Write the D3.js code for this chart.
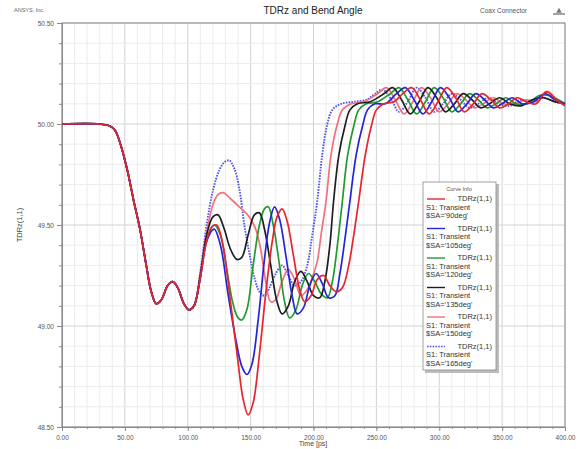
<!DOCTYPE html>
<html>
<head>
<meta charset="utf-8">
<script src="https://cdn.jsdelivr.net/npm/d3@7"></script>
<style>
  body { margin: 0; background: #fff; }
  text { font-family: "Liberation Sans", Arial, sans-serif; }
</style>
</head>
<body>
<div id="chart"></div>
<script>
// shared front of every trace (before the bend)
const commonStart = [[0,50.00],[30,50.00],[38,49.99],[42,49.97],[46,49.91],[52,49.77],[57,49.62],[62,49.48],[67,49.30],[71,49.17],[75,49.11],[79,49.13],[84,49.20],[88,49.22],[92,49.19],[97,49.11],[101,49.08],[105,49.10]];

const tail90 = [[110,49.24],[115,49.42],[119,49.49],[123,49.50],[128,49.40],[134,49.12],[140,48.82],[144,48.64],[148,48.56],[152,48.62],[157,48.86],[162,49.16],[167,49.41],[171,49.54],[175,49.58],[179,49.52],[184,49.35],[189,49.18],[193,49.12],[198,49.15],[203,49.23],[208,49.25],[213,49.20],[218,49.17],[223,49.19],[228,49.30],[232,49.45],[236,49.62],[241,49.84],[246,49.99],[250,50.07],[256,50.10],[264,50.11],[271,50.15],[278,50.18],[285,50.12],[292,50.05],[299,50.11],[306,50.18],[313,50.13],[320,50.06],[327,50.10],[334,50.15],[341,50.12],[348,50.08],[355,50.10],[362,50.13],[369,50.11],[377,50.10],[385,50.16],[393,50.12],[400,50.09]];
const tail105 = [[110,49.24],[115,49.42],[121,49.48],[126,49.40],[132,49.16],[138,48.94],[143,48.80],[147,48.76],[151,48.81],[156,49.03],[161,49.33],[165,49.51],[169,49.59],[173,49.53],[178,49.35],[183,49.15],[187,49.06],[192,49.09],[197,49.20],[202,49.26],[207,49.21],[212,49.14],[217,49.15],[221,49.26],[225,49.43],[229,49.62],[234,49.85],[239,49.99],[243,50.07],[249,50.10],[257,50.10],[266,50.15],[273,50.18],[280,50.12],[287,50.05],[294,50.11],[301,50.18],[308,50.13],[315,50.06],[322,50.10],[329,50.15],[336,50.12],[343,50.08],[350,50.10],[358,50.13],[366,50.10],[375,50.11],[384,50.15],[392,50.12],[400,50.10]];
const tail120 = [[110,49.24],[115,49.42],[121,49.50],[126,49.45],[131,49.28],[136,49.11],[140,49.04],[143,49.03],[147,49.08],[152,49.30],[157,49.50],[161,49.58],[164,49.59],[168,49.50],[173,49.30],[177,49.12],[181,49.04],[186,49.08],[191,49.20],[196,49.26],[201,49.22],[206,49.16],[211,49.14],[215,49.22],[219,49.40],[223,49.62],[227,49.84],[232,49.99],[236,50.07],[242,50.10],[251,50.11],[261,50.15],[268,50.18],[275,50.12],[282,50.05],[289,50.11],[296,50.18],[303,50.13],[310,50.06],[317,50.10],[324,50.15],[331,50.12],[338,50.08],[345,50.10],[353,50.13],[361,50.10],[370,50.10],[379,50.14],[388,50.14],[400,50.10]];
const tail135 = [[110,49.25],[115,49.45],[120,49.54],[124,49.55],[129,49.48],[134,49.38],[139,49.33],[143,49.34],[148,49.45],[153,49.55],[157,49.56],[161,49.48],[166,49.30],[171,49.12],[175,49.06],[180,49.10],[185,49.22],[190,49.27],[195,49.22],[200,49.15],[205,49.14],[209,49.22],[213,49.40],[216,49.62],[220,49.84],[225,49.99],[229,50.07],[235,50.10],[245,50.11],[256,50.15],[263,50.18],[270,50.12],[277,50.05],[284,50.11],[291,50.18],[298,50.13],[305,50.06],[312,50.10],[319,50.15],[326,50.12],[333,50.08],[340,50.10],[348,50.13],[356,50.10],[365,50.09],[374,50.12],[383,50.13],[392,50.11],[400,50.10]];
const tail150 = [[110,49.26],[115,49.46],[120,49.60],[124,49.65],[128,49.66],[134,49.63],[141,49.59],[149,49.54],[154,49.48],[158,49.38],[162,49.22],[166,49.12],[170,49.13],[175,49.22],[180,49.28],[185,49.23],[190,49.15],[195,49.18],[199,49.24],[203,49.32],[206,49.45],[210,49.62],[214,49.85],[219,50.00],[223,50.07],[230,50.10],[240,50.11],[251,50.15],[258,50.18],[265,50.12],[272,50.05],[279,50.11],[286,50.18],[293,50.13],[300,50.06],[307,50.10],[314,50.15],[321,50.12],[328,50.08],[335,50.10],[343,50.13],[351,50.10],[360,50.10],[369,50.12],[378,50.11],[386,50.16],[394,50.12],[400,50.10]];
const tail165 = [[110,49.27],[115,49.50],[120,49.67],[125,49.77],[129,49.81],[133,49.82],[137,49.78],[141,49.68],[145,49.50],[149,49.36],[153,49.24],[157,49.17],[161,49.15],[165,49.19],[170,49.26],[175,49.30],[180,49.25],[185,49.20],[190,49.22],[195,49.30],[199,49.45],[203,49.62],[207,49.85],[211,50.00],[215,50.07],[222,50.10],[232,50.11],[242,50.12],[249,50.15],[255,50.17],[262,50.12],[268,50.06],[275,50.11],[282,50.18],[289,50.13],[296,50.06],[303,50.10],[310,50.15],[317,50.12],[324,50.08],[331,50.10],[339,50.13],[347,50.10],[356,50.09],[365,50.12],[374,50.11],[383,50.13],[392,50.11],[400,50.10]];

const angles = ["90deg", "105deg", "120deg", "135deg", "150deg", "165deg"];
const tails = [tail90, tail105, tail120, tail135, tail150, tail165];
const colors = ["#e8242c", "#2424d8", "#22992e", "#1e1e1e", "#f2707c", "#5252ee"];

const xTicks = [0, 50, 100, 150, 200, 250, 300, 350, 400];
const yTicks = [48.5, 49.0, 49.5, 50.0, 50.5];

const W = 587, H = 449;
const svg = d3.select("#chart").append("svg")
    .attr("width", W)
    .attr("height", H);

const x = d3.scaleLinear().domain([0, 400]).range([62, 565]);
const y = d3.scaleLinear().domain([48.5, 50.5]).range([427, 23]);

const xMinor = d3.range(0, 401, 10);
const yMinor = d3.range(0, 21).map(i => 48.5 + i * 0.1);

// grid
svg.append("g").selectAll("line")
  .data(xMinor)
  .join("line")
    .attr("x1", d => x(d)).attr("x2", d => x(d))
    .attr("y1", y(50.5)).attr("y2", y(48.5))
    .attr("stroke", d => d % 50 == 0 ? "#d2d2d2" : "#ececec")
    .attr("stroke-width", 1);
svg.append("g").selectAll("line")
  .data(yMinor)
  .join("line")
    .attr("x1", x(0)).attr("x2", x(400))
    .attr("y1", d => y(d)).attr("y2", d => y(d))
    .attr("stroke", (d, i) => i % 5 == 0 ? "#d2d2d2" : "#ececec")
    .attr("stroke-width", 1);

// frame
svg.append("rect")
    .attr("x", x(0)).attr("y", y(50.5))
    .attr("width", x(400) - x(0)).attr("height", y(48.5) - y(50.5))
    .attr("fill", "none")
    .attr("stroke", "#8a8a8a");

// axes
const xAxis = svg.append("g")
    .attr("transform", "translate(0," + y(48.5) + ")")
    .call(d3.axisBottom(x).tickValues(xTicks).tickFormat(d3.format(".2f")).tickSize(4));
svg.append("g")
    .attr("transform", "translate(0," + y(48.5) + ")")
    .call(d3.axisBottom(x).tickValues(xMinor).tickFormat("").tickSize(2));
const yAxis = svg.append("g")
    .attr("transform", "translate(" + x(0) + ",0)")
    .call(d3.axisLeft(y).tickValues(yTicks).tickFormat(d3.format(".2f")).tickSize(5));
svg.append("g")
    .attr("transform", "translate(" + x(0) + ",0)")
    .call(d3.axisLeft(y).tickValues(yMinor).tickFormat("").tickSize(3));

svg.selectAll(".domain").attr("stroke", "#8a8a8a");
svg.selectAll(".tick line").attr("stroke", "#8a8a8a");
svg.selectAll(".tick text")
    .attr("fill", "#555")
    .style("font-size", "6.5px");
xAxis.selectAll(".tick text").attr("dy", "0.9em");

// labels
svg.append("text")
    .attr("x", 313).attr("y", 446)
    .attr("text-anchor", "middle")
    .attr("fill", "#444")
    .style("font-size", "7px")
    .text("Time [ps]");
svg.append("text")
    .attr("transform", "translate(22," + y(49.5) + ") rotate(-90)")
    .attr("text-anchor", "middle")
    .attr("fill", "#444")
    .style("font-size", "7.5px")
    .text("TDRz(1,1)");
svg.append("text")
    .attr("x", 313).attr("y", 14)
    .attr("text-anchor", "middle")
    .attr("fill", "#222")
    .style("font-size", "10px")
    .text("TDRz and Bend Angle");
svg.append("text")
    .attr("x", 14).attr("y", 12)
    .attr("fill", "#666")
    .style("font-size", "5.5px")
    .text("ANSYS, Inc.");
svg.append("text")
    .attr("x", 527).attr("y", 13)
    .attr("text-anchor", "end")
    .attr("fill", "#555")
    .style("font-size", "6.5px")
    .text("Coax Connector");

// little logo at top right
const logo = svg.append("g").attr("transform", "translate(559,11)");
logo.append("line").attr("x1", -6).attr("x2", 6).attr("y1", 3).attr("y2", 3)
    .attr("stroke", "#666").attr("stroke-width", 1.2);
logo.append("path").attr("d", d3.symbol().type(d3.symbolTriangle).size(14))
    .attr("fill", "#777");

// traces
const line = d3.line()
    .x(d => x(d[0]))
    .y(d => y(d[1]))
    .curve(d3.curveCatmullRom.alpha(0.5));

// dotted one underneath, red drawn last
const drawOrder = [5, 4, 2, 3, 1, 0];
const plot = svg.append("g");
drawOrder.forEach(i => {
    plot.append("path")
        .datum(commonStart.concat(tails[i]))
        .attr("d", line)
        .attr("fill", "none")
        .attr("stroke", colors[i])
        .attr("stroke-width", i == 5 ? 1.9 : 1.7)
        .attr("stroke-dasharray", i == 5 ? "1.6,1.2" : null);
});

// legend
const lg = svg.append("g").attr("transform", "translate(423,182)");
const rowH = 29.5;
lg.append("rect")
    .attr("x", 2).attr("y", 2)
    .attr("width", 74).attr("height", 189)
    .attr("fill", "#bdbdbd");
lg.append("rect")
    .attr("width", 73).attr("height", 188)
    .attr("fill", "#fff")
    .attr("stroke", "#8a8a8a")
    .attr("stroke-width", 0.8);
lg.append("text")
    .attr("x", 36).attr("y", 9)
    .attr("text-anchor", "middle")
    .attr("fill", "#555")
    .style("font-size", "5.5px")
    .text("Curve Info");
angles.forEach((a, i) => {
    const g = lg.append("g").attr("transform", "translate(0," + (19 + i * rowH) + ")");
    g.append("line")
        .attr("x1", 4).attr("x2", 22)
        .attr("y1", -2).attr("y2", -2)
        .attr("stroke", colors[i])
        .attr("stroke-width", 1.4)
        .attr("stroke-dasharray", i == 5 ? "1.6,1.2" : null);
    g.append("text")
        .attr("x", 69).attr("y", 0)
        .attr("text-anchor", "end")
        .attr("fill", "#333")
        .style("font-size", "7.5px")
        .text("TDRz(1,1)");
    g.append("text")
        .attr("x", 3).attr("y", 8.5)
        .attr("fill", "#333")
        .style("font-size", "7.5px")
        .text("S1: Transient");
    g.append("text")
        .attr("x", 3).attr("y", 17)
        .attr("fill", "#333")
        .style("font-size", "7.5px")
        .text("$SA='" + a + "'");
});
</script>
</body>
</html>
